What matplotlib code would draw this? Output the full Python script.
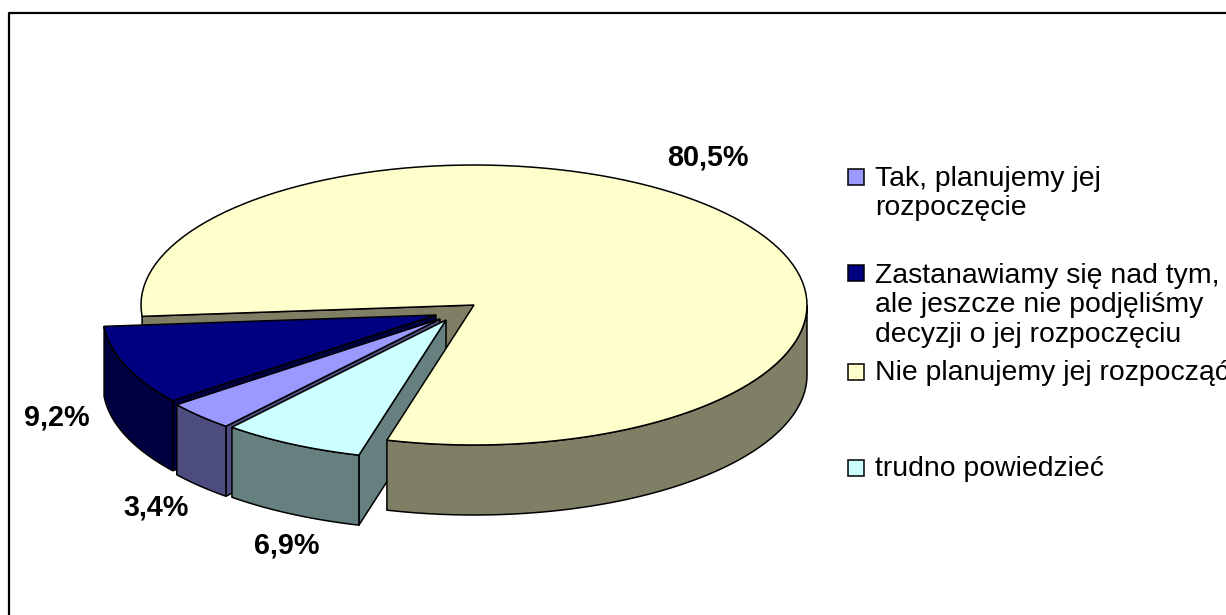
import numpy as np
import matplotlib
matplotlib.use("Agg")
import matplotlib.pyplot as plt
from matplotlib.patches import Polygon, Rectangle

plt.rcParams['font.family'] = ['Liberation Sans', 'DejaVu Sans']

# chart data, in the order of the legend
labels = ['Tak, planujemy jej\nrozpoczęcie',
          'Zastanawiamy się nad tym,\nale jeszcze nie podjęliśmy\ndecyzji o jej rozpoczęciu',
          'Nie planujemy jej rozpocząć',
          'trudno powiedzieć']
values = [3.4, 9.2, 80.5, 6.9]
colors = ['#9999FF', '#000080', '#FFFFCC', '#CCFFFF']
shades = ['#4C4C7F', '#000040', '#7F7F66', '#667F7F']

# layout, in pixels of the 1226x615 picture
W, H = 1226, 615
CX, CY = 474, 305
RX, RY = 333, 140
DEPTH = 70
START = 230
LW = 1.1
explode = [(-34, 14), (-38, 10), (0, 0), (-28, 15)]
label_pos = [(156, 508), (57, 417), (708, 158), (287, 545)]
legend_y = [177, 273, 372, 468]
legend_text_y = [193.5, 305.5, 373.5, 469.5]


def arc(cx, cy, a1, a2, n=120):
    t = np.radians(np.linspace(a1, a2, n))
    return np.column_stack([cx + RX * np.cos(t), cy - RY * np.sin(t)])


def poly(ax, pts, color):
    ax.add_patch(Polygon(pts, closed=True, facecolor=color, edgecolor='black',
                         linewidth=LW, joinstyle='miter'))


def outer_wall(ax, cx, cy, a1, a2, color):
    top = arc(cx, cy, a1, a2)
    poly(ax, np.vstack([top, top[::-1] + [0, DEPTH]]), color)


def radial_face(ax, cx, cy, a, color):
    edge = arc(cx, cy, a, a, 1)[0]
    poly(ax, [(cx, cy), edge, edge + [0, DEPTH], (cx, cy + DEPTH)], color)


def top_face(ax, cx, cy, a1, a2, color):
    poly(ax, np.vstack([[(cx, cy)], arc(cx, cy, a1, a2)]), color)


fig = plt.figure(figsize=(W / 100, H / 100), dpi=100)
ax = fig.add_axes([0, 0, 1, 1])
ax.set_xlim(0, W)
ax.set_ylim(H, 0)
ax.axis('off')

# frame of the chart area, only top and left fall inside the picture
ax.plot([9, 9, W + 5], [H + 5, 13, 13], color='black', linewidth=1.6)

# slices run clockwise from START
sweep = np.array(values) / sum(values) * 360
ends = START - np.cumsum(sweep)
starts = ends + sweep
tak, nav, yel, cya = 0, 1, 2, 3


def c(i):
    return CX + explode[i][0], CY + explode[i][1]


# back to front, the way the picture stacks them
for i in (yel, nav, tak, cya):
    radial_face(ax, *c(i), starts[i], shades[i])

outer_wall(ax, *c(yel), ends[yel], 0, shades[yel])
top_face(ax, *c(yel), starts[yel], ends[yel], colors[yel])

for i in (nav, tak, cya):
    outer_wall(ax, *c(i), ends[i], starts[i], shades[i])
    top_face(ax, *c(i), starts[i], ends[i], colors[i])

for v, (x, y) in zip(values, label_pos):
    ax.text(x, y, f'{v:.1f}%'.replace('.', ','), fontsize=20.7, fontweight='bold',
            ha='center', va='center', color='black')

for lab, col, y, ty in zip(labels, colors, legend_y, legend_text_y):
    ax.add_patch(Rectangle((848, y - 8), 16, 16, facecolor=col, edgecolor='black',
                           linewidth=LW))
    ax.text(875, ty, lab, fontsize=20.4, ha='left', va='center', color='black',
            linespacing=1.17)

fig.savefig('out.png', dpi=100)
